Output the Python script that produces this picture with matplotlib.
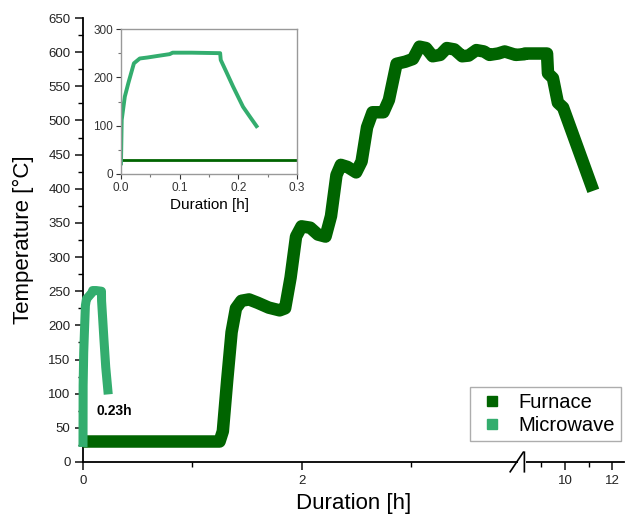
import matplotlib
matplotlib.use('Agg')
import matplotlib.pyplot as plt
from matplotlib.lines import Line2D
from matplotlib.patches import Rectangle
import numpy as np

plt.rcParams['font.family'] = ['Liberation Sans', 'DejaVu Sans']

C_FURNACE = '#006400'
C_MICRO = '#33AD6E'

# Furnace run (hours, deg C)
furnace_t = [0, 1.25, 1.28, 1.32, 1.36, 1.40, 1.45, 1.52, 1.60, 1.70, 1.80, 1.85,
             1.90, 1.95, 2.00, 2.08, 2.15, 2.22, 2.27, 2.32, 2.36, 2.42, 2.50,
             2.55, 2.60, 2.65, 2.75, 2.80, 2.87, 2.95, 3.02, 3.08, 3.14, 3.20,
             3.27, 3.33, 3.40, 3.47, 3.53, 3.60, 3.67, 3.72, 3.80, 3.86, 3.92,
             3.96, 4.04, 8.30, 9.24, 9.28, 9.49, 9.70, 9.92, 11.20]
furnace_T = [30, 30, 45, 120, 190, 225, 236, 238, 233, 226, 222, 225,
             270, 330, 345, 343, 333, 330, 360, 420, 435, 432, 424,
             440, 490, 512, 512, 530, 583, 586, 590, 608, 606, 594,
             596, 606, 604, 594, 595, 603, 601, 596, 598, 601, 598,
             596, 597, 598, 598, 569, 562, 526, 519, 397]

# Microwave run (hours, deg C)
micro_t = [0, 0.0012, 0.0065, 0.0125, 0.022, 0.032, 0.045, 0.061, 0.083, 0.088,
           0.12, 0.169, 0.170, 0.180, 0.191, 0.208, 0.220, 0.231]
micro_T = [22, 112, 160, 188, 229, 239, 241, 244, 248, 251,
           251, 250, 236, 210, 181, 139, 118, 99]

# broken x axis: left part 0..B1, right part B2.. compressed
B1, B2, R, EPS = 4.04, 8.30, 0.2161, 1e-3


def fwd(x):
    x = np.asarray(x, dtype=float)
    return np.where(x <= B1, x,
                    np.where(x < B2, B1 + (x - B1) * EPS,
                             B1 + (B2 - B1) * EPS + (x - B2) * R))


def inv(u):
    u = np.asarray(u, dtype=float)
    u2 = B1 + (B2 - B1) * EPS
    return np.where(u <= B1, u,
                    np.where(u < u2, B1 + (u - B1) / EPS,
                             B2 + (u - u2) / R))


fig = plt.figure(figsize=(6.27, 5.17), dpi=100)
ax = fig.add_axes([83 / 627, 55 / 517, 541 / 627, 444 / 517])
ax.set_xscale('function', functions=(fwd, inv))

ax.plot(furnace_t, furnace_T, color=C_FURNACE, lw=9, solid_joinstyle='round',
        solid_capstyle='butt', clip_on=False, zorder=3)
ax.plot(micro_t, micro_T, color=C_MICRO, lw=6.5, solid_joinstyle='round',
        solid_capstyle='butt', clip_on=False, zorder=4)

ax.set_xlim(0, 12.5)
ax.set_ylim(0, 650)
ax.set_xticks([0, 2, 10, 12])
ax.set_xticks([1, 3, 9, 11], minor=True)
ax.set_yticks(np.arange(0, 651, 50))
ax.set_yticks(np.arange(25, 650, 50), minor=True)
ax.tick_params(which='major', direction='out', length=6, width=1.2, labelsize=9.5,
               colors='#222222', pad=3)
ax.tick_params(which='minor', direction='out', length=3.5, width=1.0)
for s in ['top', 'right']:
    ax.spines[s].set_visible(False)
for s in ['left', 'bottom']:
    ax.spines[s].set_linewidth(1.3)
ax.set_xlabel('Duration [h]', fontsize=16, labelpad=5)
ax.set_ylabel('Temperature [°C]', fontsize=16, labelpad=10)

# axis break marker
tr = ax.get_xaxis_transform()
ax.add_patch(Rectangle((B1 - 0.06, -0.01), 0.12 + (B2 - B1), 0.02, transform=tr,
                       facecolor='white', edgecolor='none', clip_on=False, zorder=5))
ax.plot([B1 - 0.13, B1 - 0.01], [-0.022, 0.022], transform=tr, color='k', lw=1.2,
        clip_on=False, zorder=6)
ax.plot([B1 + 0.04, B1 + 0.16], [-0.022, 0.022], transform=tr, color='k', lw=1.2,
        clip_on=False, zorder=6)

ax.text(0.125, 75, '0.23h', fontsize=10, fontweight='bold', ha='left', va='center')

handles = [Line2D([], [], ls='none', marker='s', ms=7, color=C_FURNACE, label='Furnace'),
           Line2D([], [], ls='none', marker='s', ms=7, color=C_MICRO, label='Microwave')]
leg = ax.legend(handles=handles, loc='lower right', bbox_to_anchor=(0.995, 0.048),
                fontsize=14.5, frameon=True, fancybox=False, edgecolor='#999999',
                handlelength=1.5, handletextpad=0.6, borderpad=0.3, labelspacing=0.2,
                borderaxespad=0)
leg.get_frame().set_linewidth(1.0)

# inset: first 0.3 h
axi = fig.add_axes([121 / 627, 343 / 517, 176 / 627, 145 / 517])
axi.plot(furnace_t, furnace_T, color=C_FURNACE, lw=2)
axi.plot(micro_t, micro_T, color=C_MICRO, lw=2.8)
axi.set_xlim(0, 0.3)
axi.set_ylim(0, 300)
axi.set_xticks([0, 0.1, 0.2, 0.3])
axi.set_xticklabels(['0.0', '0.1', '0.2', '0.3'])
axi.set_xticks([0.05, 0.15, 0.25], minor=True)
axi.set_yticks([0, 100, 200, 300])
axi.set_yticks([50, 150, 250], minor=True)
axi.tick_params(which='major', direction='out', length=3.5, width=0.8, labelsize=8.5,
                colors='#333333', pad=2)
axi.tick_params(which='minor', direction='out', length=2, width=0.8, colors='#777777')
for s in axi.spines.values():
    s.set_color('#999999')
    s.set_linewidth(1.0)
axi.set_xlabel('Duration [h]', fontsize=11, labelpad=3)

fig.savefig('out.png', dpi=100)
